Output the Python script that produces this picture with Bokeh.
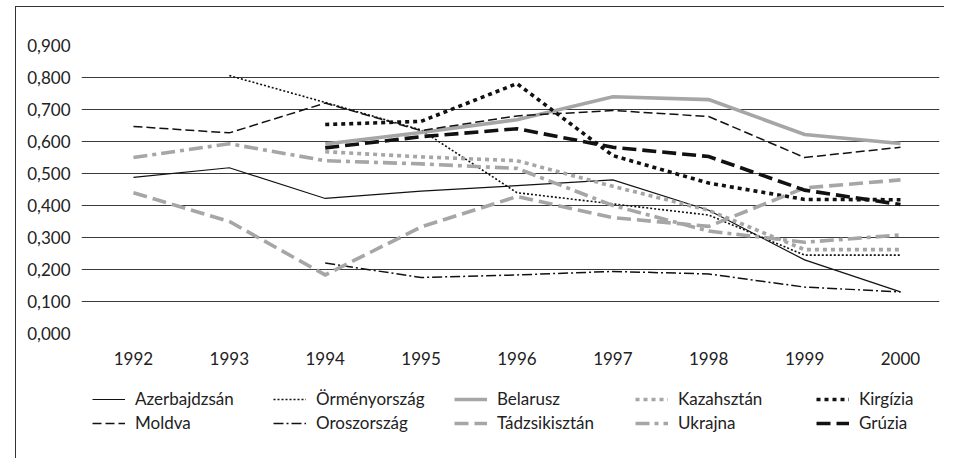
from bokeh.plotting import figure
from bokeh.layouts import column
from bokeh.models import (Range1d, FixedTicker, CustomJSTickFormatter, Legend, LegendItem)
from bokeh.embed import file_html
from bokeh.resources import INLINE

years = [1992, 1993, 1994, 1995, 1996, 1997, 1998, 1999, 2000]
y_ticks = [0.0, 0.1, 0.2, 0.3, 0.4, 0.5, 0.6, 0.7, 0.8, 0.9]

azerbajdzsan = [0.488, 0.518, 0.422, 0.445, 0.462, 0.480, 0.385, 0.230, 0.130]
ormenyorszag = [None, 0.806, 0.722, 0.636, 0.440, 0.405, 0.370, 0.245, 0.245]
belarusz = [None, None, 0.592, 0.628, 0.668, 0.740, 0.731, 0.622, 0.594]
kazahsztan = [None, None, 0.568, 0.552, 0.540, 0.460, 0.385, 0.262, 0.262]
kirgizia = [None, None, 0.653, 0.663, 0.781, 0.556, 0.470, 0.419, 0.418]
moldva = [0.647, 0.627, 0.720, 0.634, 0.680, 0.697, 0.678, 0.550, 0.582]
oroszorszag = [None, None, 0.220, 0.175, 0.183, 0.194, 0.186, 0.145, 0.130]
tadzsikisztan = [0.440, 0.350, 0.183, 0.333, 0.428, 0.362, 0.335, 0.455, 0.480]
ukrajna = [0.550, 0.593, 0.540, 0.530, 0.516, 0.400, 0.320, 0.285, 0.308]
gruzia = [None, None, 0.580, 0.615, 0.640, 0.582, 0.553, 0.448, 0.403]

FONT = "Lato"
GRAY = "#a6a6a6"

series = [
    ("Azerbajdzsán", azerbajdzsan, dict(line_color="#111111", line_width=1.2, line_dash="solid")),
    ("Örményország", ormenyorszag, dict(line_color="#111111", line_width=1.6, line_dash="2 2")),
    ("Belarusz", belarusz, dict(line_color=GRAY, line_width=3.6, line_dash="solid")),
    ("Kazahsztán", kazahsztan, dict(line_color=GRAY, line_width=3.6, line_dash="4 4")),
    ("Kirgízia", kirgizia, dict(line_color="#111111", line_width=3.6, line_dash="4 4")),
    ("Moldva", moldva, dict(line_color="#111111", line_width=1.5, line_dash="9 4")),
    ("Oroszország", oroszorszag, dict(line_color="#111111", line_width=1.5, line_dash="10 3 2 3")),
    ("Tádzsikisztán", tadzsikisztan, dict(line_color=GRAY, line_width=3.6, line_dash="14 6")),
    ("Ukrajna", ukrajna, dict(line_color=GRAY, line_width=3.6, line_dash="14 5 4 5")),
    ("Grúzia", gruzia, dict(line_color="#111111", line_width=3.6, line_dash="14 6")),
]

p = figure(width=928, height=366, output_backend="svg", toolbar_location=None,
           x_range=Range1d(1991.458, 2000.407), y_range=Range1d(0, 0.9),
           min_border_left=65, min_border_right=5, min_border_top=38, min_border_bottom=40)
p.outline_line_color = None
p.background_fill_color = "white"
p.border_fill_color = "white"

p.xgrid.grid_line_color = None
p.ygrid.grid_line_color = "#3a3a3a"
p.ygrid.grid_line_width = 1.2
p.yaxis.ticker = FixedTicker(ticks=y_ticks)
p.xaxis.ticker = FixedTicker(ticks=years)
p.yaxis.formatter = CustomJSTickFormatter(code="return tick.toFixed(3).replace('.', ',');")
for ax in (p.xaxis[0], p.yaxis[0]):
    ax.axis_line_color = None
    ax.major_tick_line_color = None
    ax.minor_tick_line_color = None
    ax.major_label_text_font = FONT
    ax.major_label_text_font_size = "17px"
    ax.major_label_text_color = "#222222"
p.yaxis.major_label_standoff = 5
p.xaxis.major_label_standoff = 12

# legend panel
q = figure(width=928, height=85, output_backend="svg", toolbar_location=None,
           x_range=Range1d(0, 1), y_range=Range1d(0, 1),
           x_axis_location=None, y_axis_location=None,
           min_border_left=0, min_border_right=0, min_border_top=0, min_border_bottom=0)
q.outline_line_color = None
q.xgrid.grid_line_color = None
q.ygrid.grid_line_color = None
q.background_fill_color = "white"
q.border_fill_color = "white"

items = []
for name, vals, style in series:
    xs = [y for y, v in zip(years, vals) if v is not None]
    ys = [v for v in vals if v is not None]
    p.line(xs, ys, line_join="miter", **style)
    key = q.line(x=[5, 6], y=[5, 6], **style)  # legend key only, outside visible range
    items.append(LegendItem(label=name, renderers=[key]))

common = dict(orientation="horizontal", glyph_width=33, glyph_height=20,
              label_standoff=10, label_width=120, spacing=18,
              label_text_font=FONT, label_text_font_size="17px",
              label_text_color="#222222", label_height=20,
              padding=2, margin=0, border_line_color=None, background_fill_alpha=0)
legend1 = Legend(items=items[:5], location=(11, 49), **common)
legend2 = Legend(items=items[5:], location=(11, 25), **common)
q.add_layout(legend1, "center")
q.add_layout(legend2, "center")

layout = column(p, q, spacing=0,
                styles={"border-left": "1px solid #333", "border-top": "1px solid #333",
                        "margin-left": "15px", "margin-top": "6px"})

open("out.html", "w").write(file_html(layout, INLINE))
